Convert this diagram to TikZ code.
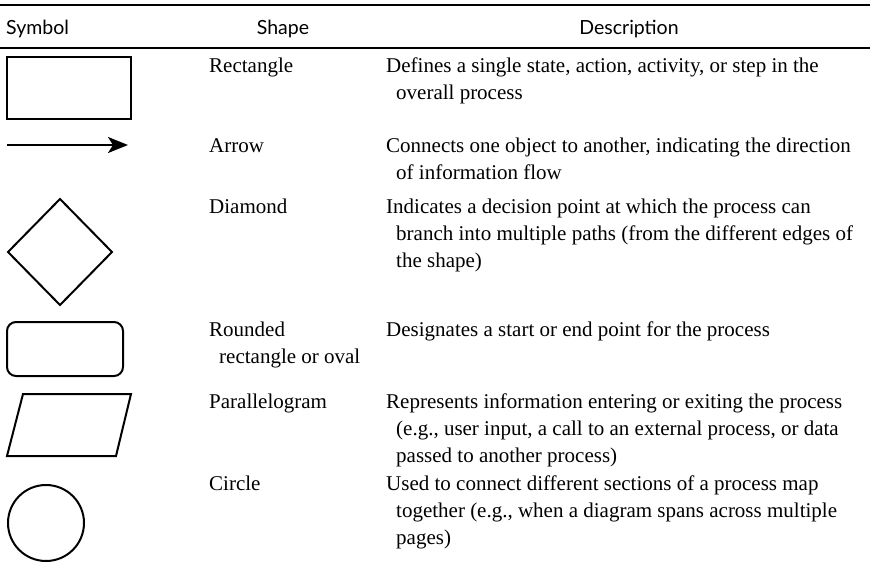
\documentclass[tikz,border=0pt]{standalone}
\usepackage{fontspec}
\setmainfont{Liberation Serif}
\newfontfamily\headfont{Lato}
\usepackage{tikz}
\usetikzlibrary{arrows.meta}

\tikzset{
  rulel/.style={line width=1.3pt},
  symb/.style={line width=2pt},
  head/.style={inner sep=0pt, anchor=base, font=\headfont\fontsize{19.5}{22}\selectfont},
  cell/.style={inner sep=0pt, anchor=base west, align=left,
    font=\fontsize{21}{27}\selectfont},
}
\newcommand{\hang}{\hspace*{10pt}}

\begin{document}
\begin{tikzpicture}[x=1pt, y=-1pt]
  \useasboundingbox (0,0) rectangle (870,570);

  % rules
  \draw[rulel] (0,5) -- (870,5);
  \draw[rulel] (0,48) -- (870,48);

  % header row (base of a cell = its last line)
  \node[head, anchor=base west] (hSym) at (6,34) {Symbol};
  \node[head] (hShape) at (283,34) {Shape};
  \node[head] (hDesc) at (629,34) {Description};

  % symbols
  \draw[symb] (7,57) rectangle (131,119);
  \coordinate (arrA) at (7,145);
  \coordinate (arrB) at (128,145);
  \draw[symb, -{Stealth[length=20pt, width=16pt, inset=5pt]}] (arrA) -- (arrB);
  \draw[symb] (8,252) -- (60,199) -- (112,252) -- (60,305) -- cycle;
  \draw[symb, rounded corners=9pt] (7,322) rectangle (123,376);
  \draw[symb] (23,394) -- (131,394) -- (116,456) -- (7,456) -- cycle;
  \draw[symb] (46,523) circle (38);

  % shape column
  \node[cell] (sRect) at (209,72) {Rectangle};
  \node[cell] (sArrow) at (209,152) {Arrow};
  \node[cell] (sDiam) at (209,213) {Diamond};
  \node[cell] (sRound) at (209,363) {Rounded\\\hang rectangle or oval};
  \node[cell] (sPara) at (209,408) {Parallelogram};
  \node[cell] (sCirc) at (209,490) {Circle};

  % description column
  \node[cell] (dRect) at (386,99) {Defines a single state, action, activity, or step in the\\\hang overall process};
  \node[cell] (dArrow) at (386,179) {Connects one object to another, indicating the direction\\\hang of information flow};
  \node[cell] (dDiam) at (386,267) {Indicates a decision point at which the process can\\\hang branch into multiple paths (from the different edges of\\\hang the shape)};
  \node[cell] (dRound) at (386,336) {Designates a start or end point for the process};
  \node[cell] (dPara) at (386,462) {Represents information entering or exiting the process\\\hang (e.g., user input, a call to an external process, or data\\\hang passed to another process)};
  \node[cell] (dCirc) at (386,544) {Used to connect different sections of a process map\\\hang together (e.g., when a diagram spans across multiple\\\hang pages)};

\end{tikzpicture}
\end{document}
